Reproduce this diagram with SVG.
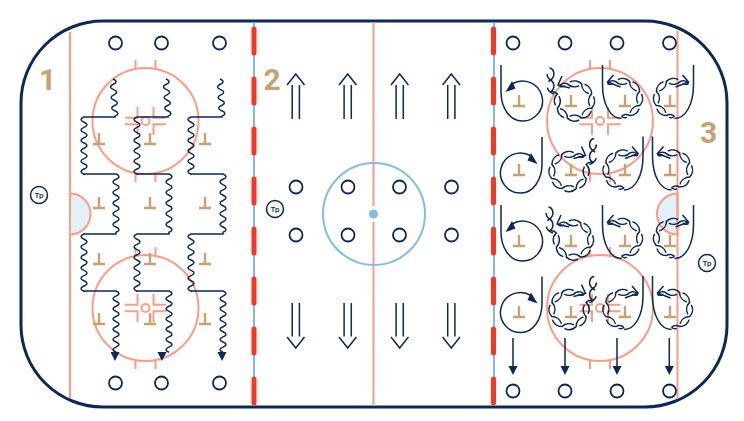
<svg xmlns="http://www.w3.org/2000/svg" xmlns:xlink="http://www.w3.org/1999/xlink" width="744" height="421" viewBox="0 0 744 421">
<style>
.rink{fill:#fff;stroke:#0a2858;stroke-width:3}
.goal{fill:none;stroke:#ff9a85;stroke-width:2}
.blue{fill:none;stroke:#7fbde6;stroke-width:2}
.dash{fill:none;stroke:#ff3322;stroke-width:5;stroke-linecap:round;stroke-dasharray:24 26}
.crease{fill:#e3f0f8;stroke:#ff9a85;stroke-width:2}
.ln{fill:none;stroke:#0a2858;stroke-width:1.5}
.dl1{fill:none;stroke:#0a2858;stroke-width:1.5;stroke-dasharray:25.400 6;stroke-dashoffset:3.950}
.dl2{fill:none;stroke:#0a2858;stroke-width:1.5;stroke-dasharray:25.400 6;stroke-dashoffset:19.650}
.ah{fill:#0a2858;stroke:none}
.dot{fill:#fff;stroke:#0a2858;stroke-width:1.8}
.pl{fill:none;stroke:#c9a06f;stroke-width:2.400}
.num{font-family:"Roboto","Liberation Sans",sans-serif;font-size:30px;font-weight:700;fill:#c9a06f;text-anchor:middle}
.tp{font-family:"Roboto","Liberation Sans",sans-serif;font-size:8px;font-weight:500;fill:#0a2858;text-anchor:middle}
</style>
<defs>
<g id="faceoff">
<circle r="53" class="goal"/>
<circle r="4" class="goal"/>
<path class="goal" d="M-10 -61V-53M10 -61V-53M-10 53V61M10 53V61M-20.500 -3.200H-8V-14M8 -14V-3.200H20.500M-20.500 3.200H-8V14M8 14V3.200H20.500"/>
</g>
<path id="player" class="pl" d="M-6 0H6M0 0V-11"/>
<path id="dn" class="ln" d="M-3.600 0V33.500M3.600 0V33.500M-8.700 34L0 45L8.700 34"/>
<path id="upa" class="ln" d="M-3.600 0V-34M3.600 0V-34M-8.700 -34L0 -45L8.700 -34"/>
<g id="tp"><circle r="8.500" fill="#fff" stroke="#0a2858" stroke-width="1.500"/><text y="3" class="tp">Tp</text></g>
<path id="snake" class="ln" d="M113 79q6 2.600 .3 5.300t.3 5.300t.3 5.300t.3 5.300t.3 5.300t.3 5.300t.3 5.300L115 117H84q-6 2.600 0 5.200t0 5.200t0 5.200t0 5.200t0 5.200t0 5.200t0 5.200t0 5.200t0 5.200t0 5.200t0 5.200L84 174H116q6 2.600 0 5.300t0 5.300t0 5.300t0 5.300t0 5.300t0 5.300t0 5.300t0 5.300t0 5.300t0 5.300t0 5.300L116 234H84q-6 2.600 0 5.200t0 5.200t0 5.200t0 5.200t0 5.200t0 5.200t0 5.200t0 5.200t0 5.200t0 5.200t0 5.200L84 291H116q6 2.600 0 5.100t0 5.100t0 5.100t0 5.100t0 5.100t0 5.100t0 5.100t0 5.100t0 5.100t0 5.100t0 5.100t0 5.100"/>
<path id="adown" class="ah" d="M-4.500 -9H4.500L0 0Z"/>
<g id="circ">
<path class="ln" d="M-21 -36V-9C-21 7 -12 20 0 20A20 20 0 1 0 -10 -17"/>
<path class="ah" d="M-16.500 -9L-10 -20L-6.500 -12.500Z"/>
</g>
<g id="ring">
<path class="dl1" d="M-15 -15A6 6 0 0 1 -7.100 -17.100A10 10 0 0 0 7.100 -17.100A10 10 0 0 1 17.100 -7.100A10 10 0 0 0 17.100 7.100A10 10 0 0 1 7.100 17.100A10 10 0 0 0 -7.100 17.100A10 10 0 0 1 -17.100 7.100A10 10 0 0 0 -17.100 -7.100A7 7 0 0 1 -24 -9A7 7 0 0 0 -24 -21A7 7 0 0 1 -24 -33"/>
<path class="dl2" d="M-15 -15A6 6 0 0 0 -7.100 -17.100A10 10 0 0 1 7.100 -17.100A10 10 0 0 0 17.100 -7.100A10 10 0 0 1 17.100 7.100A10 10 0 0 0 7.100 17.100A10 10 0 0 1 -7.100 17.100A10 10 0 0 0 -17.100 7.100A10 10 0 0 1 -17.100 -7.100A7 7 0 0 0 -24 -9A7 7 0 0 1 -24 -21A7 7 0 0 0 -24 -33"/>
<path class="ln" d="M-12.500 -25L-16.500 -16L-4.500 -13"/>
</g>
<g id="ushape">
<path class="ln" d="M-20 -33.500V-14C-20 6 -12 20 -1 20"/>
<path class="dl1" d="M-15 -15A6 6 0 0 1 -7.100 -17.100A10 10 0 0 0 7.100 -17.100A10 10 0 0 1 17.100 -7.100A10 10 0 0 0 17.100 7.100A10 10 0 0 1 7.100 17.100A6 6 0 0 0 -1 18"/>
<path class="dl2" d="M-15 -15A6 6 0 0 0 -7.100 -17.100A10 10 0 0 1 7.100 -17.100A10 10 0 0 0 17.100 -7.100A10 10 0 0 1 17.100 7.100A10 10 0 0 0 7.100 17.100A6 6 0 0 1 -1 18"/>
<path class="ln" d="M-9 -23.500L-15 -16.500L-2 -11.500"/>
</g>
</defs>

<g id="rink-markings">
<rect id="rink" class="rink" x="21" y="21" width="706" height="386" rx="82" ry="82"/>
<path class="crease" d="M70 193.500A20.500 20.500 0 0 1 70 234.500Z"/>
<path class="crease" d="M677.500 193.500A20.500 20.500 0 0 0 677.500 234.500Z"/>
<path class="goal" d="M70 32V398M677.500 31V399M373.500 22V206M373.500 222V406"/>
<path class="blue" d="M254 22.500V405.500M494 22.500V405.500"/>
<circle class="blue" cx="374" cy="214" r="51"/>
<circle cx="373.500" cy="214" r="4.500" fill="#7fbde6"/>
<use href="#faceoff" x="145.500" y="121"/>
<use href="#faceoff" x="145.500" y="308"/>
<use href="#faceoff" x="600" y="121"/>
<use href="#faceoff" x="600" y="308"/>
<path class="dash" d="M254 29V405M493.500 29V405"/>
</g>

<g id="players">
<g id="p1"><use href="#player" x="99" y="144"/></g><g id="p2"><use href="#player" x="150" y="144"/></g><g id="p3"><use href="#player" x="205" y="144"/></g>
<g id="p4"><use href="#player" x="99" y="208"/></g><g id="p5"><use href="#player" x="150" y="208"/></g><g id="p6"><use href="#player" x="205" y="208"/></g>
<g id="p7"><use href="#player" x="99" y="264"/></g><g id="p8"><use href="#player" x="150" y="264"/></g><g id="p9"><use href="#player" x="205" y="264"/></g>
<g id="p10"><use href="#player" x="99" y="324"/></g><g id="p11"><use href="#player" x="150" y="324"/></g><g id="p12"><use href="#player" x="205" y="324"/></g>
<g id="p13"><use href="#player" x="519" y="106"/></g><g id="p14"><use href="#player" x="571" y="106"/></g><g id="p15"><use href="#player" x="625" y="106"/></g><g id="p16"><use href="#player" x="670" y="106"/></g>
<g id="p17"><use href="#player" x="519" y="175"/></g><g id="p18"><use href="#player" x="571" y="175"/></g><g id="p19"><use href="#player" x="625" y="175"/></g><g id="p20"><use href="#player" x="670" y="175"/></g>
<g id="p21"><use href="#player" x="519" y="246"/></g><g id="p22"><use href="#player" x="571" y="246"/></g><g id="p23"><use href="#player" x="625" y="246"/></g><g id="p24"><use href="#player" x="670" y="246"/></g>
<g id="p25"><use href="#player" x="519" y="317"/></g><g id="p26"><use href="#player" x="571" y="317"/></g><g id="p27"><use href="#player" x="625" y="317"/></g><g id="p28"><use href="#player" x="670" y="317"/></g>
</g>

<g id="dots">
<g id="d1"><circle class="dot" cx="115.500" cy="43" r="6.500"/></g><g id="d2"><circle class="dot" cx="161.500" cy="43" r="6.500"/></g><g id="d3"><circle class="dot" cx="219.500" cy="43" r="6.500"/></g>
<g id="d4"><circle class="dot" cx="115.500" cy="383" r="6.500"/></g><g id="d5"><circle class="dot" cx="161.500" cy="383" r="6.500"/></g><g id="d6"><circle class="dot" cx="219.500" cy="383" r="6.500"/></g>
<g id="d7"><circle class="dot" cx="296" cy="187" r="6.500"/></g><g id="d8"><circle class="dot" cx="348" cy="187" r="6.500"/></g><g id="d9"><circle class="dot" cx="399.500" cy="187" r="6.500"/></g><g id="d10"><circle class="dot" cx="451.500" cy="187" r="6.500"/></g>
<g id="d11"><circle class="dot" cx="296" cy="235" r="6.500"/></g><g id="d12"><circle class="dot" cx="348" cy="235" r="6.500"/></g><g id="d13"><circle class="dot" cx="399.500" cy="235" r="6.500"/></g><g id="d14"><circle class="dot" cx="451.500" cy="235" r="6.500"/></g>
<g id="d15"><circle class="dot" cx="513" cy="43" r="6.500"/></g><g id="d16"><circle class="dot" cx="565" cy="43" r="6.500"/></g><g id="d17"><circle class="dot" cx="617" cy="43" r="6.500"/></g><g id="d18"><circle class="dot" cx="669.500" cy="43" r="6.500"/></g>
<g id="d19"><circle class="dot" cx="513" cy="391" r="6.500"/></g><g id="d20"><circle class="dot" cx="565" cy="391" r="6.500"/></g><g id="d21"><circle class="dot" cx="617" cy="391" r="6.500"/></g><g id="d22"><circle class="dot" cx="669.500" cy="391" r="6.500"/></g>
</g>

<g id="connectors">
<use href="#snake"/>
<use href="#snake" x="53"/>
<use href="#snake" x="107"/>
<use href="#adown" x="115" y="361"/>
<use href="#adown" x="162" y="361"/>
<use href="#adown" x="222" y="361"/>

<use href="#upa" x="295.800" y="119"/><use href="#upa" x="347.700" y="119"/><use href="#upa" x="399.700" y="119"/><use href="#upa" x="451.300" y="119"/>
<use href="#dn" x="295.800" y="303"/><use href="#dn" x="347.700" y="303"/><use href="#dn" x="399.700" y="303"/><use href="#dn" x="451.300" y="303"/>

<use href="#circ" transform="translate(522 101)"/>
<use href="#circ" transform="translate(521 173) scale(-1 1)"/>
<use href="#circ" transform="translate(522 241)"/>
<use href="#circ" transform="translate(521 312.500) scale(-1 1)"/>

<use href="#ring" transform="translate(574.500 101)"/>
<use href="#ring" transform="translate(569 171.500) scale(-1 1)"/>
<use href="#ring" transform="translate(573.500 240)"/>
<use href="#ring" transform="translate(569 309.500) scale(-1 1)"/>

<use href="#ushape" transform="translate(622.500 98.500)"/>
<use href="#ushape" transform="translate(673.500 98.500) scale(-1 1)"/>
<use href="#ushape" transform="translate(623 170) scale(-1 1)"/>
<use href="#ushape" transform="translate(672.500 170)"/>
<use href="#ushape" transform="translate(622.500 238.500)"/>
<use href="#ushape" transform="translate(673.500 238.500) scale(-1 1)"/>
<use href="#ushape" transform="translate(623 309.500) scale(-1 1)"/>
<use href="#ushape" transform="translate(672.500 309.500)"/>

<path class="ln" d="M513 338V368M565 338V368M617 338V368M669.300 338V368"/>
<use href="#adown" x="513" y="375"/><use href="#adown" x="565" y="375"/><use href="#adown" x="617" y="375"/><use href="#adown" x="669.300" y="375"/>
</g>

<g id="tp1"><use href="#tp" x="39" y="195"/></g>
<g id="tp2"><use href="#tp" x="275" y="209"/></g>
<g id="tp3"><use href="#tp" x="707" y="263"/></g>
<g id="zone-labels">
<text class="num" x="47.500" y="90">1</text>
<text class="num" x="272" y="90">2</text>
<text class="num" x="708.500" y="143">3</text>
</g>
</svg>
